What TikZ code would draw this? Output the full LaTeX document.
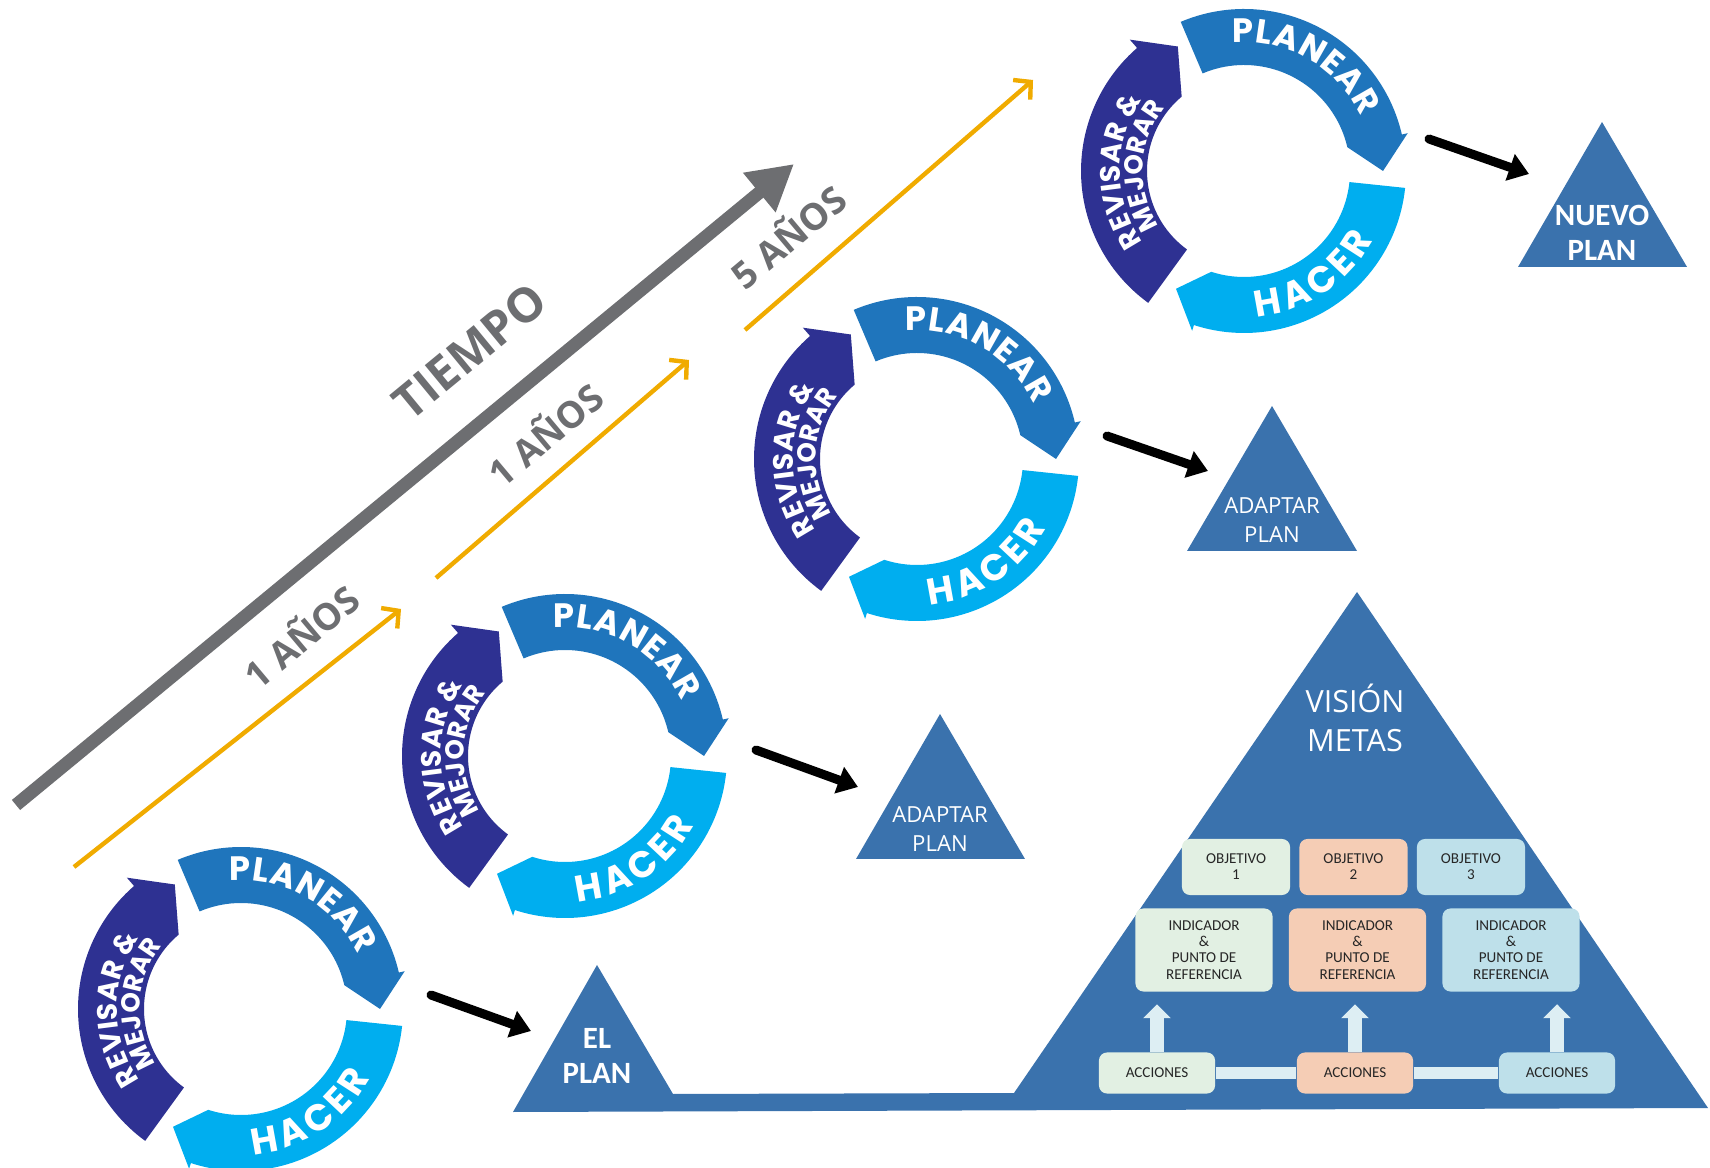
\documentclass[tikz,border=0pt]{standalone}
\usepackage{fontspec}
\setmainfont{Open Sans}
\newfontfamily\cycfont{Poppins}
\newfontfamily\boxfont{Carlito}
\usetikzlibrary{arrows.meta, positioning, calc, decorations.text}
\definecolor{PlanBlue}{HTML}{1F75BC}
\definecolor{DoBlue}{HTML}{00AEEF}
\definecolor{CheckBlue}{HTML}{2E3192}
\definecolor{PlanSteel}{HTML}{3A72AD}
\definecolor{TimeGray}{HTML}{6D6E71}
\definecolor{YearGold}{HTML}{F0AB00}
\definecolor{GoalMint}{HTML}{E2F0E3}
\definecolor{GoalPeach}{HTML}{F5CDB5}
\definecolor{GoalSky}{HTML}{BEE0EA}
\definecolor{GoalPale}{HTML}{DDEEF3}
\newcommand{\planfont}{\cycfont\bfseries\fontsize{9.6}{9.6}\selectfont}
\newcommand{\dofont}{\cycfont\bfseries\fontsize{10.5}{10.5}\selectfont}
\newcommand{\checkfont}{\cycfont\bfseries\fontsize{8}{8}\selectfont}
\newcommand{\improvefont}{\cycfont\bfseries\fontsize{7.4}{7.4}\selectfont}
\tikzset{
    % Text along the cycle bands
    bandtext/.style={
        decorate,
        decoration={text along path, text color=white, text align=fit to path, text={#1}}
    },
    % Arrow styles
    timearrow/.style={
        -{Triangle[length=0.45cm,width=0.48cm]},
        line width=0.13cm,
        TimeGray
    },
    yeararrow/.style={
        -{Straight Barb[length=0.12cm,width=0.26cm]},
        line width=0.044cm,
        YearGold
    },
    planarrow/.style={
        -{Triangle[length=0.2cm,width=0.27cm]},
        line width=0.09cm,
        line cap=round,
        black
    },
    liftarrow/.style={
        -{Triangle[length=0.14cm,width=0.27cm]},
        line width=0.14cm,
        GoalPale,
        shorten >=0.12cm
    },
    % Label styles
    timelabel/.style={
        font=\bfseries\fontsize{10.5}{10.5}\selectfont,
        text=TimeGray,
        rotate=40
    },
    trilabel/.style={
        align=center,
        text=white,
        font=\fontsize{6.3}{8.2}\selectfont
    },
    tribold/.style={
        align=center,
        text=white,
        font=\boxfont\bfseries\fontsize{8.8}{10}\selectfont
    },
    % Goal boxes inside the pyramid
    goalbox/.style={
        rectangle,
        rounded corners=0.08cm,
        align=center,
        inner sep=0pt,
        text=black!85,
        font=\boxfont\fontsize{4.3}{4.6}\selectfont
    },
    objbox/.style={goalbox, minimum width=1.08cm, minimum height=0.56cm},
    indbox/.style={goalbox, minimum width=1.37cm, minimum height=0.83cm},
    accbox/.style={goalbox, minimum width=1.16cm, minimum height=0.41cm}
}
\newcommand{\pdcacycle}[1]{%
    \begin{scope}[shift={(#1)}]
        % Planear
        \fill[PlanBlue] (113:162) arc[start angle=113, end angle=13, radius=162]
            -- (13:168) -- (0:139) -- (13:106)
            arc[start angle=13, end angle=113, radius=106] -- cycle;
        \path[bandtext={|\planfont|PLANEAR}] (95:129) arc[start angle=95, end angle=25, radius=129];
        % Hacer
        \fill[DoBlue] (-6:162) arc[start angle=-6, end angle=-108, radius=162]
            -- (-108:168) -- (-120:136) -- (-108:106)
            arc[start angle=-108, end angle=-6, radius=106] -- cycle;
        \path[bandtext={|\dofont|HACER}] (-85:146) arc[start angle=-85, end angle=-28, radius=146];
        % Revisar & mejorar
        \fill[CheckBlue] (234:163) arc[start angle=234, end angle=131, radius=163]
            -- (131:174) -- (118:141) -- (130:97)
            arc[start angle=130, end angle=234, radius=97] -- cycle;
        \path[bandtext={|\checkfont|REVISAR {\&}}] (215:124) arc[start angle=215, end angle=145, radius=124];
        \path[bandtext={|\improvefont|MEJORAR}] (213:101) arc[start angle=213, end angle=141, radius=101];
    \end{scope}}

\begin{document}
\begin{tikzpicture}[x=0.01cm, y=0.01cm]
    \useasboundingbox (0,0) rectangle (1710,1167);

    % Time axis
    \coordinate (t0) at (16,362);
    \coordinate (t1) at (794,1003);
    \draw[timearrow] (t0) -- (t1);
    \node[timelabel, font=\bfseries\fontsize{13.5}{13.5}\selectfont, rotate=-0.5] (tiempo) at (470,816) {TIEMPO};

    % Year spans
    \coordinate (ya0) at (74,300);
    \coordinate (ya1) at (401,558);
    \coordinate (yb0) at (436,589);
    \coordinate (yb1) at (689,807);
    \coordinate (yc0) at (745,837);
    \coordinate (yc1) at (1033,1087);
    \draw[yeararrow] (ya0) -- (ya1);
    \draw[yeararrow] (yb0) -- (yb1);
    \draw[yeararrow] (yc0) -- (yc1);
    \node[timelabel] (year1) at (300,532) {1 AÑOS};
    \node[timelabel] (year2) at (544,734) {1 AÑOS};
    \node[timelabel] (year5) at (787,932) {5 AÑOS};

    % PDCA cycles
    \coordinate (cyc1) at (241,158);
    \coordinate (cyc2) at (565,411);
    \coordinate (cyc3) at (917,708);
    \coordinate (cyc4) at (1244,996);
    \foreach \c in {cyc1,cyc2,cyc3,cyc4} {\pdcacycle{\c}}

    % Plan triangles
    \fill[PlanSteel] (513,55) -- (597,202) -- (673,73) -- (1014,74) -- (1357,575) -- (1708,59) -- cycle;
    \fill[PlanSteel] (856,308) -- (940,453) -- (1025,308) -- cycle;
    \fill[PlanSteel] (1187,616) -- (1272,761) -- (1357,616) -- cycle;
    \fill[PlanSteel] (1518,900) -- (1602,1045) -- (1687,900) -- cycle;
    \node[tribold] (elplan) at (597,111) {EL\\PLAN};
    \node[trilabel] (adapt1) at (940,338) {ADAPTAR\\PLAN};
    \node[trilabel] (adapt2) at (1272,647) {ADAPTAR\\PLAN};
    \node[tribold] (nuevo) at (1602,934) {NUEVO\\PLAN};
    \node[trilabel, font=\fontsize{8.7}{11.1}\selectfont] (vision) at (1355,449) {VISIÓN\\METAS};

    % Cycle to plan
    \draw[planarrow] ($(cyc1)+(190,14)$) -- ($(elplan)+(-66,25)$);
    \draw[planarrow] ($(cyc2)+(191,6)$) -- ($(adapt1)+(-82,42)$);
    \draw[planarrow] ($(cyc3)+(190,23)$) -- ($(adapt2)+(-64,49)$);
    \draw[planarrow] ($(cyc4)+(185,32)$) -- ($(nuevo)+(-73,59)$);

    % Objectives
    \node[objbox, fill=GoalMint] (obj1) at (1236,300) {OBJETIVO\\1};
    \node[objbox, fill=GoalPeach, right=0.08cm of obj1] (obj2) {OBJETIVO\\2};
    \node[objbox, fill=GoalSky, right=0.08cm of obj2] (obj3) {OBJETIVO\\3};

    % Indicators
    \node[indbox, fill=GoalMint] (ind1) at (1204,217) {INDICADOR\\\&\\PUNTO DE\\REFERENCIA};
    \node[indbox, fill=GoalPeach, right=0.15cm of ind1] (ind2) {INDICADOR\\\&\\PUNTO DE\\REFERENCIA};
    \node[indbox, fill=GoalSky, right=0.15cm of ind2] (ind3) {INDICADOR\\\&\\PUNTO DE\\REFERENCIA};

    % Actions
    \node[accbox, fill=GoalMint] (acc1) at (1157,94) {ACCIONES};
    \node[accbox, fill=GoalPeach] (acc2) at (1355,94) {ACCIONES};
    \node[accbox, fill=GoalSky] (acc3) at (1557,94) {ACCIONES};
    \draw[GoalPale, line width=0.11cm] (acc1.east) -- (acc2.west) (acc2.east) -- (acc3.west);
    \foreach \i in {1,2,3}
        \draw[liftarrow] (acc\i.north) -- (acc\i.north |- ind\i.south);
\end{tikzpicture}
\end{document}
